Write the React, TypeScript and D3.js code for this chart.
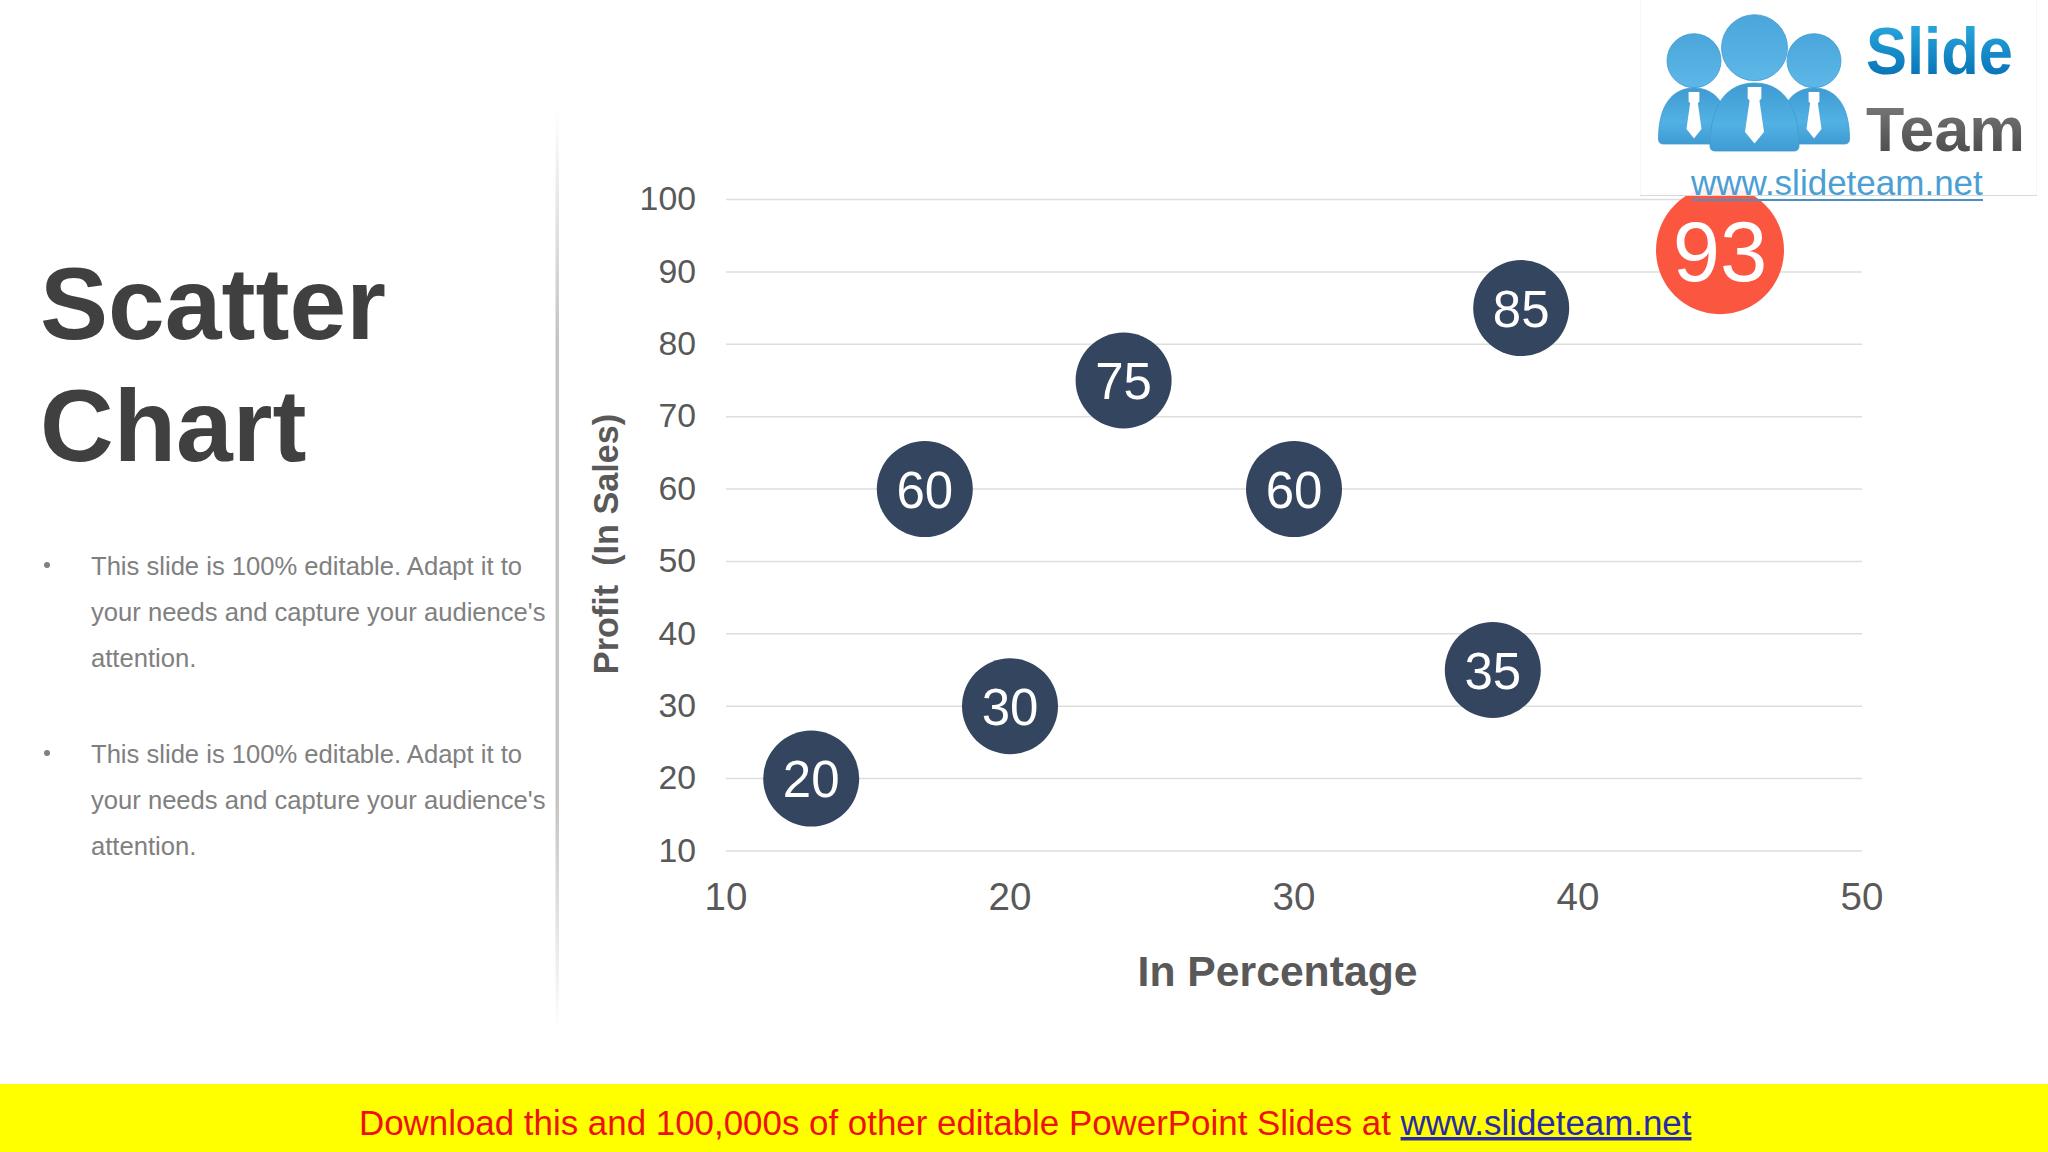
import React from "react";
import * as d3 from "d3";

const titleLines = ["Scatter", "Chart"];
const bodyLines = ["This slide is 100% editable. Adapt it to", "your needs and capture your audience's", "attention."];
const xTicks = [10, 20, 30, 40, 50];
const yTicks = [10, 20, 30, 40, 50, 60, 70, 80, 90, 100];
const pointX = [13, 17, 20, 24, 30, 37, 38, 45];
const pointY = [20, 60, 30, 75, 60, 35, 85, 93];
const highlighted = [false, false, false, false, false, false, false, true];

const SANS = "'Liberation Sans', Arial, sans-serif";
const x = d3.scaleLinear().domain([10, 50]).range([726, 1862]);
const y = d3.scaleLinear().domain([10, 100]).range([851, 199.5]);

function Person({ cx, headY, headR, bodyW, bodyTop, bodyBottom, tieW }: any) {
  const l = cx - bodyW / 2, r = cx + bodyW / 2;
  const h = bodyBottom - bodyTop;
  const body = `M${l},${bodyBottom - 5} C${l},${bodyTop + h * 0.3} ${cx - bodyW * 0.3},${bodyTop} ${cx},${bodyTop} C${cx + bodyW * 0.3},${bodyTop} ${r},${bodyTop + h * 0.3} ${r},${bodyBottom - 5} Q${r},${bodyBottom} ${r - 5},${bodyBottom} L${l + 5},${bodyBottom} Q${l},${bodyBottom} ${l},${bodyBottom - 5} Z`;
  const tTop = bodyTop + 4;
  const tie = `M${cx - tieW * 0.36},${tTop} L${cx + tieW * 0.36},${tTop} L${cx + tieW * 0.36},${tTop + h * 0.17} L${cx + tieW * 0.26},${tTop + h * 0.2} L${cx + tieW * 0.5},${tTop + h * 0.66} L${cx},${tTop + h * 0.83} L${cx - tieW * 0.5},${tTop + h * 0.66} L${cx - tieW * 0.26},${tTop + h * 0.2} L${cx - tieW * 0.36},${tTop + h * 0.17} Z`;
  return (
    <g>
      <circle cx={cx} cy={headY} r={headR} fill="url(#headGrad)" stroke="#3f9bd0" strokeWidth={0.8} />
      <path d={body} fill="url(#bodyGrad)" stroke="#3f9bd0" strokeWidth={0.8} />
      <path d={tie} fill="#ffffff" />
    </g>
  );
}

export default function App() {
  return (
    <svg width={2048} height={1152} viewBox="0 0 2048 1152" style={{ position: "absolute", left: 0, top: 0, display: "block", background: "#fff" }}>
      <defs>
        <linearGradient id="dividerGrad" x1="0" y1="0" x2="0" y2="1">
          <stop offset="0" stopColor="#c4c4c4" stopOpacity={0} />
          <stop offset="0.25" stopColor="#c4c4c4" />
          <stop offset="0.75" stopColor="#c4c4c4" />
          <stop offset="1" stopColor="#c4c4c4" stopOpacity={0} />
        </linearGradient>
        <linearGradient id="headGrad" x1="0" y1="0" x2="0" y2="1">
          <stop offset="0" stopColor="#4aa6db" />
          <stop offset="1" stopColor="#5db8e8" />
        </linearGradient>
        <linearGradient id="bodyGrad" x1="0" y1="0" x2="0" y2="1">
          <stop offset="0" stopColor="#3f9bd2" />
          <stop offset="0.6" stopColor="#52b1e4" />
          <stop offset="1" stopColor="#3f9bd2" />
        </linearGradient>
        <linearGradient id="slideGrad" x1="0" y1="0" x2="0" y2="1">
          <stop offset="0" stopColor="#2fb0e4" />
          <stop offset="1" stopColor="#0068ae" />
        </linearGradient>
        <linearGradient id="teamGrad" x1="0" y1="0" x2="0" y2="1">
          <stop offset="0" stopColor="#808080" />
          <stop offset="1" stopColor="#444444" />
        </linearGradient>
      </defs>

      <rect width={2048} height={1152} fill="#ffffff" />

      {titleLines.map((t, i) => (
        <text key={t} x={40} y={339 + i * 122} fontFamily={SANS} fontWeight={700} fontSize={102} fill="#404040">{t}</text>
      ))}

      {[0, 1].map((b) =>
        <g key={b} fontFamily={SANS} fontSize={25.6} fill="#808080">
          <circle cx={47} cy={565 + b * 188} r={3} fill="#808080" />
          {bodyLines.map((t, i) => (
            <text key={i} x={91} y={575 + b * 188 + i * 46}>{t}</text>
          ))}
        </g>
      )}

      <rect x={555.5} y={110} width={3.5} height={920} fill="url(#dividerGrad)" />

      {yTicks.map((t) => (
        <line key={t} x1={x(10)} x2={x(50)} y1={y(t)} y2={y(t)} stroke="#dedede" strokeWidth={1.5} />
      ))}
      {yTicks.map((t) => (
        <text key={t} x={696} y={y(t) - 1} dy="0.35em" textAnchor="end" fontFamily={SANS} fontSize={33.8} fill="#595959">{t}</text>
      ))}
      {xTicks.map((t) => (
        <text key={t} x={x(t)} y={910} textAnchor="middle" fontFamily={SANS} fontSize={38.5} fill="#595959">{t}</text>
      ))}

      <text transform="translate(618,544) rotate(-90)" textAnchor="middle" fontFamily={SANS} fontWeight={700} fontSize={34.2} fill="#595959" style={{ whiteSpace: "pre" }}>{"Profit  (In Sales)"}</text>
      <text x={1277.5} y={986} textAnchor="middle" fontFamily={SANS} fontWeight={700} fontSize={42.7} fill="#595959">In Percentage</text>

      {pointX.map((px, i) => {
        const hi = highlighted[i];
        return (
          <g key={i}>
            <circle cx={x(px)} cy={y(pointY[i])} r={hi ? 64 : 48} fill={hi ? "#fb5640" : "#34455f"} />
            <text x={x(px)} y={y(pointY[i]) + 1} dy="0.35em" textAnchor="middle" fontFamily={SANS} fontSize={hi ? 85 : 51} fill="#ffffff">{pointY[i]}</text>
          </g>
        );
      })}

      {/* logo panel hides the top of the chart behind it */}
      <rect x={1640} y={0} width={397} height={196} fill="#ffffff" fillOpacity={0.9} />
      <rect x={1786} y={196} width={90} height={7} fill="#ffffff" />
      <rect x={1640} y={0} width={1} height={195} fill="#f6f6f6" />
      <rect x={2036} y={0} width={1} height={195} fill="#f6f6f6" />
      <line x1={1640} x2={2037} y1={195.5} y2={195.5} stroke="#d9d9d9" strokeWidth={1} />
      <Person cx={1694} headY={60.7} headR={27} bodyW={71} bodyTop={88} bodyBottom={144} tieW={15} />
      <Person cx={1814} headY={60.7} headR={27} bodyW={71} bodyTop={88} bodyBottom={144} tieW={15} />
      <Person cx={1754.5} headY={47.7} headR={33} bodyW={89} bodyTop={83} bodyBottom={151} tieW={19} />
      <text x={1866} y={74} textLength={147} lengthAdjust="spacingAndGlyphs" fontFamily={SANS} fontWeight={700} fontSize={66} fill="url(#slideGrad)">Slide</text>
      <text x={1866} y={151} textLength={159} lengthAdjust="spacingAndGlyphs" fontFamily={SANS} fontWeight={700} fontSize={63} fill="url(#teamGrad)">Team</text>
      <text x={1691} y={195} fontFamily={SANS} fontSize={35} fill="#4a9fd4">www.slideteam.net</text>
      <line x1={1692} x2={1983} y1={200} y2={200} stroke="#4a90c4" strokeWidth={2} />

      {/* footer band */}
      <rect x={0} y={1084} width={2048} height={68} fill="#ffff00" />
      <text x={359} y={1135} fontFamily={SANS} fontSize={34.9} fill="#ee1111" style={{ whiteSpace: "pre" }}>
        {"Download this and 100,000s of other editable PowerPoint Slides at "}
        <tspan fill="#2a2aa8" textDecoration="underline">www.slideteam.net</tspan>
      </text>
    </svg>
  );
}
